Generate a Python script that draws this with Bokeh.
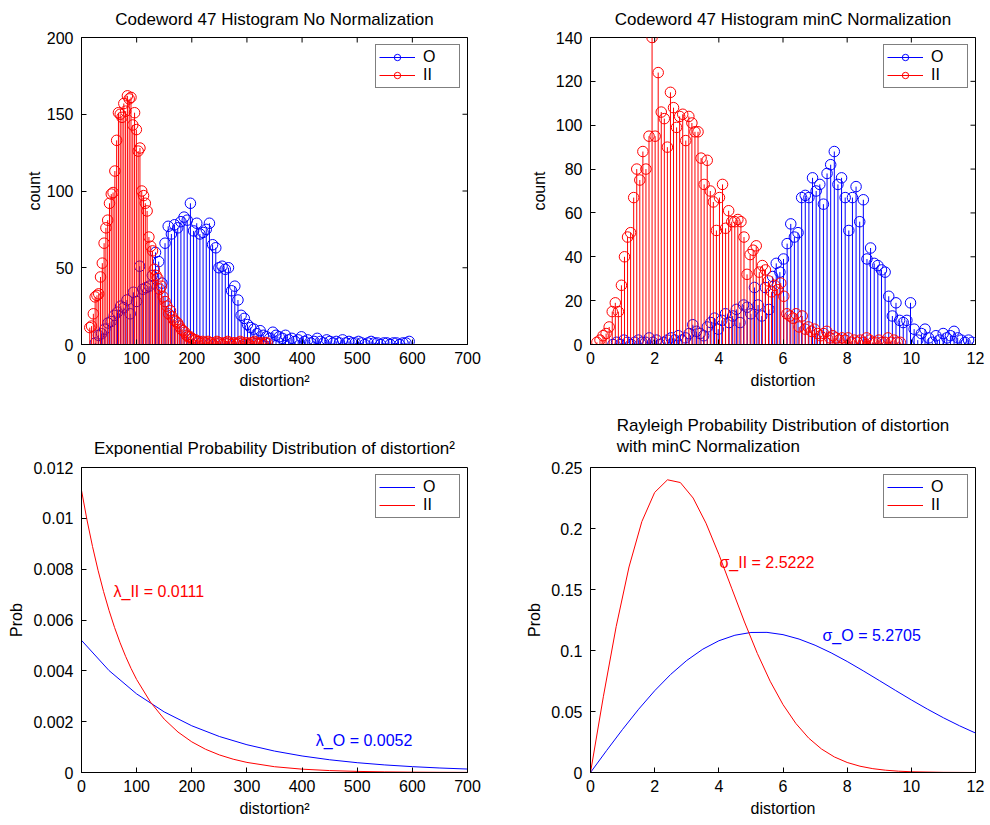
import math
from bokeh.plotting import figure
from bokeh.models import Range1d, FixedTicker, Legend, LegendItem
from bokeh.layouts import column, row
from bokeh.embed import file_html
from bokeh.resources import INLINE
from bokeh.core.properties import value

FONT = "Liberation Sans"
BLUE = "#0000ff"
RED = "#ff0000"

# ---------------- data ----------------
# Top-left: histogram of distortion^2 (100 bins per series)
tl_O_start, tl_O_width = 25.0, 5.75
tl_O_counts = [1, 6, 7, 10, 14, 15, 19, 21, 25, 24, 29, 20, 34, 28, 51, 36, 37, 38, 45, 60,
               54, 40, 66, 77, 72, 78, 76, 80, 83, 81, 92, 74, 79, 72, 73, 75, 79, 65, 63, 50,
               51, 49, 50, 35, 38, 29, 19, 17, 13, 11, 10, 7, 9, 6, 5, 4, 8, 6, 5, 4,
               6, 3, 4, 2, 3, 5, 2, 3, 1, 2, 4, 2, 1, 3, 2, 1, 2, 1, 3, 1,
               2, 1, 1, 2, 1, 0, 1, 2, 1, 1, 0, 1, 1, 0, 1, 1, 0, 1, 1, 2]
tl_II_start, tl_II_width = 15.0, 3.25
tl_II_counts = [11, 12, 20, 31, 32, 33, 44, 53, 66, 76, 81, 92, 98, 99, 113, 133, 151, 150, 148, 157,
                152, 162, 160, 161, 143, 151, 140, 126, 128, 100, 97, 92, 87, 70, 64, 61, 49, 45, 43, 36,
                38, 31, 28, 25, 20, 22, 18, 16, 15, 14, 12, 10, 9, 8, 6, 5, 5, 4, 3, 3,
                2, 2, 1, 2, 1, 1, 2, 1, 1, 0, 1, 2, 1, 1, 0, 1, 1, 2, 1, 0,
                1, 1, 0, 1, 2, 1, 0, 1, 1, 0, 1, 1, 2, 1, 0, 1, 1, 0, 1, 1]

# Top-right: histogram of distortion with minC normalization
tr_O_start, tr_O_width = 0.7, 0.1131
tr_O_counts = [0, 1, 0, 2, 1, 0, 1, 2, 1, 1, 3, 1, 2, 0, 1, 2, 3, 2, 4, 2,
               3, 5, 9, 6, 5, 4, 8, 10, 12, 7, 11, 14, 10, 13, 16, 10, 18, 17, 14, 26,
               18, 13, 26, 16, 31, 37, 33, 39, 46, 55, 49, 51, 67, 68, 67, 76, 70, 73, 64, 78,
               82, 88, 73, 76, 67, 52, 67, 72, 56, 66, 39, 44, 37, 36, 34, 33, 22, 13, 19, 11,
               10, 11, 19, 7, 2, 5, 7, 3, 1, 4, 2, 5, 3, 4, 6, 3, 2, 1, 2, 1]
tr_II_start, tr_II_width = 0.2, 0.0955
tr_II_counts = [1, 2, 4, 5, 8, 15, 19, 15, 27, 40, 49, 51, 67, 80, 75, 88, 80, 95, 140, 95,
                124, 106, 103, 90, 115, 108, 99, 104, 105, 93, 104, 101, 97, 97, 85, 73, 84, 70, 65, 52,
                67, 73, 53, 61, 56, 56, 57, 56, 49, 32, 41, 43, 45, 33, 36, 34, 29, 24, 27, 25,
                28, 22, 14, 13, 12, 14, 8, 13, 7, 8, 6, 7, 5, 4, 5, 6, 3, 4, 3, 2,
                3, 2, 3, 1, 2, 1, 2, 1, 3, 2, 1, 1, 2, 1, 1, 3, 1, 2, 1, 1]

# Bottom-left: exponential pdf curves
bl_II_x = [0, 10, 20, 30, 40, 50, 60, 70, 80, 90, 100, 125, 150, 175, 200, 225, 250, 275,
           300, 350, 400, 450, 500, 550, 600, 650, 700]
bl_II_y = [0.01110, 0.009933, 0.008890, 0.007957, 0.007121, 0.006372, 0.005703, 0.005104,
           0.004568, 0.004088, 0.003658, 0.002772, 0.002100, 0.001591, 0.001206, 0.000914,
           0.000692, 0.000524, 0.000397, 0.000228, 0.000131, 0.0000752, 0.0000432,
           0.0000247, 0.0000142, 0.0000082, 0.0000047]
bl_O_x = [0, 50, 100, 150, 200, 250, 300, 350, 400, 450, 500, 550, 600, 650, 700]
bl_O_y = [0.0052, 0.004010, 0.003092, 0.002384, 0.001838, 0.001417, 0.001093, 0.000843,
          0.000650, 0.000501, 0.000386, 0.000298, 0.000230, 0.000177, 0.000136]

# Bottom-right: Rayleigh pdf curves
br_II_x = [0, 0.4, 0.8, 1.2, 1.6, 2.0, 2.4, 2.8, 3.2, 3.6, 4.0, 4.4, 4.8, 5.2, 5.6, 6.0,
           6.4, 6.8, 7.2, 7.6, 8.0, 8.4, 8.8, 9.2, 9.6, 10, 11, 12]
br_II_y = [0, 0.06209, 0.11958, 0.16845, 0.20566, 0.22957, 0.23991, 0.23768, 0.22495,
           0.20435, 0.17883, 0.15106, 0.12337, 0.09760, 0.07482, 0.05565, 0.04024, 0.02821,
           0.01925, 0.01276, 0.00822, 0.00515, 0.00314, 0.00187, 0.00108, 0.00061, 0.00013,
           0.000023]
br_O_x = [0, 0.5, 1, 1.5, 2, 2.5, 3, 3.5, 4, 4.5, 5, 5.5, 6, 6.5, 7, 7.5, 8, 8.5, 9, 9.5,
          10, 10.5, 11, 11.5, 12]
br_O_y = [0, 0.01792, 0.03536, 0.05186, 0.0670, 0.08042, 0.09185, 0.10107, 0.10797, 0.11251,
          0.11477, 0.11486, 0.11299, 0.10938, 0.10432, 0.09809, 0.09102, 0.08335, 0.0754,
          0.06739, 0.05951, 0.05196, 0.04486, 0.03831, 0.03235]

# annotations
bl_labels = ["\u03bb_II = 0.0111", "\u03bb_O = 0.0052"]
bl_label_x = [58, 425]
bl_label_y = [0.00714, 0.00125]
br_labels = ["\u03c3_II = 2.5222", "\u03c3_O = 5.2705"]
br_label_x = [4.02, 7.23]
br_label_y = [0.172, 0.1127]

# ticks
x700_ticks = [0, 100, 200, 300, 400, 500, 600, 700]
x12_ticks = [0, 2, 4, 6, 8, 10, 12]
tl_yticks = [0, 50, 100, 150, 200]
tr_yticks = [0, 20, 40, 60, 80, 100, 120, 140]
bl_yticks = [0, 0.002, 0.004, 0.006, 0.008, 0.01, 0.012]
bl_ylabels = {0: "0", 0.002: "0.002", 0.004: "0.004", 0.006: "0.006", 0.008: "0.008",
              0.01: "0.01", 0.012: "0.012"}
br_yticks = [0, 0.05, 0.1, 0.15, 0.2, 0.25]
br_ylabels = {0: "0", 0.05: "0.05", 0.1: "0.1", 0.15: "0.15", 0.2: "0.2", 0.25: "0.25"}

TICK_FS = "16px"
LABEL_FS = "16px"
TITLE_FS = "17px"


def bins(start, width, n):
    return [start + width * i for i in range(n)]


def make_fig(title, xr, yr, borders, height, standoff, line_height=1.0):
    left, right, top, bottom = borders
    p = figure(width=495, height=height, output_backend="svg", toolbar_location=None,
               x_range=Range1d(*xr), y_range=Range1d(*yr),
               min_border_left=left, min_border_right=right,
               min_border_top=top, min_border_bottom=bottom)
    p.title.text = title
    p.title.align = "center"
    p.title.vertical_align = "top"
    p.title.text_font = FONT
    p.title.text_font_size = TITLE_FS
    p.title.text_font_style = "normal"
    p.title.text_color = "black"
    p.title.text_line_height = line_height
    p.title.standoff = standoff
    p.xgrid.visible = False
    p.ygrid.visible = False
    p.outline_line_color = "black"
    p.outline_line_width = 1
    p.background_fill_color = "white"
    p.border_fill_color = "white"
    return p


def style_axes(p, xticks, yticks, xlabel, ylabel, yover=None, ylab_standoff=5, mirror=True):
    for ax in p.xaxis:
        ax.ticker = FixedTicker(ticks=xticks)
        ax.axis_label = xlabel
        ax.major_label_standoff = 7
        ax.axis_label_standoff = 5
    for ax in p.yaxis:
        ax.ticker = FixedTicker(ticks=yticks)
        ax.axis_label = ylabel
        ax.major_label_standoff = 8
        ax.axis_label_standoff = ylab_standoff
        if yover:
            ax.major_label_overrides = yover
    for ax in list(p.xaxis) + list(p.yaxis):
        ax.major_tick_in = 5
        ax.major_tick_out = 0
        ax.minor_tick_line_color = None
        ax.axis_line_color = "black"
        ax.major_tick_line_color = "black"
        ax.major_label_text_font = FONT
        ax.major_label_text_font_size = TICK_FS
        ax.major_label_text_color = "black"
        ax.axis_label_text_font = FONT
        ax.axis_label_text_font_size = LABEL_FS
        ax.axis_label_text_font_style = "normal"
        ax.axis_label_text_color = "black"
    if mirror:
        # mirrored inward tick marks on the top and right edges: a dash marker centred on
        # the frame edge, half of it clipped away by the frame (drawn before the data)
        xmax = p.x_range.end
        ymax = p.y_range.end
        p.scatter(x=xticks, y=[ymax] * len(xticks), marker="dash", angle=math.pi / 2,
                  size=10, line_color="black", line_width=1)
        p.scatter(x=[xmax] * len(yticks), y=yticks, marker="dash", size=10,
                  line_color="black", line_width=1)


def add_legend(p, items):
    leg = Legend(items=items, location="top_right", border_line_color="black",
                 border_line_width=1, background_fill_color="white", background_fill_alpha=1,
                 label_text_font=FONT, label_text_font_size=LABEL_FS, label_text_color="black",
                 glyph_width=36, glyph_height=16, label_height=16, label_width=33,
                 padding=3, spacing=0, margin=7, label_standoff=8)
    p.add_layout(leg)


def stems(p, start, width, counts, color):
    xs = bins(start, width, len(counts))
    seg = p.segment(x0=xs, y0=[0] * len(xs), x1=xs, y1=counts, line_color=color, line_width=1)
    sc = p.scatter(x=xs, y=counts, marker="circle", size=10.5, fill_color=None,
                   line_color=color, line_width=1)
    return [seg, sc]


def curve(p, xs, ys, color):
    # drawn as consecutive segments between the read points
    return p.segment(x0=xs[:-1], y0=ys[:-1], x1=xs[1:], y1=ys[1:], line_color=color,
                     line_width=1)


def annotate(p, xs, ys, texts, colors):
    for x, y, t, c in zip(xs, ys, texts, colors):
        p.text(x=[x], y=[y], text=[t], text_color=c, text_font=value(FONT),
               text_font_size="16px", text_align="left", text_baseline="middle")


# ---------------- top-left ----------------
p1 = make_fig("Codeword 47 Histogram No Normalization", (0, 700), (0, 200),
              (81, 28, 37, 62), 406, 14)
style_axes(p1, x700_ticks, tl_yticks, "distortion\u00b2", "count", ylab_standoff=1)
rO = stems(p1, tl_O_start, tl_O_width, tl_O_counts, BLUE)
rII = stems(p1, tl_II_start, tl_II_width, tl_II_counts, RED)
add_legend(p1, [LegendItem(label="O", renderers=rO), LegendItem(label="II", renderers=rII)])

# ---------------- top-right ----------------
p2 = make_fig("Codeword 47 Histogram minC Normalization", (0, 12), (0, 140),
              (95, 15, 37, 62), 406, 14)
style_axes(p2, x12_ticks, tr_yticks, "distortion", "count")
rO = stems(p2, tr_O_start, tr_O_width, tr_O_counts, BLUE)
rII = stems(p2, tr_II_start, tr_II_width, tr_II_counts, RED)
add_legend(p2, [LegendItem(label="O", renderers=rO), LegendItem(label="II", renderers=rII)])

# ---------------- bottom-left ----------------
p3 = make_fig("Exponential Probability Distribution of distortion\u00b2", (0, 700), (0, 0.012),
              (81, 28, 60, 53), 419, 15)
style_axes(p3, x700_ticks, bl_yticks, "distortion\u00b2", "Prob", bl_ylabels, mirror=False)
lO = curve(p3, bl_O_x, bl_O_y, BLUE)
lII = curve(p3, bl_II_x, bl_II_y, RED)
annotate(p3, bl_label_x, bl_label_y, bl_labels, [RED, BLUE])
add_legend(p3, [LegendItem(label="O", renderers=[lO]), LegendItem(label="II", renderers=[lII])])

# ---------------- bottom-right ----------------
p4 = make_fig("Rayleigh Probability Distribution of distortion\nwith minC Normalization",
              (0, 12), (0, 0.25), (95, 15, 60, 53), 419, 18, line_height=1.15)
style_axes(p4, x12_ticks, br_yticks, "distortion", "Prob", br_ylabels, mirror=False)
lO = curve(p4, br_O_x, br_O_y, BLUE)
lII = curve(p4, br_II_x, br_II_y, RED)
annotate(p4, br_label_x, br_label_y, br_labels, [RED, BLUE])
add_legend(p4, [LegendItem(label="O", renderers=[lO]), LegendItem(label="II", renderers=[lII])])

layout = column(row(p1, p2), row(p3, p4))
open("out.html", "w").write(file_html(layout, INLINE))
